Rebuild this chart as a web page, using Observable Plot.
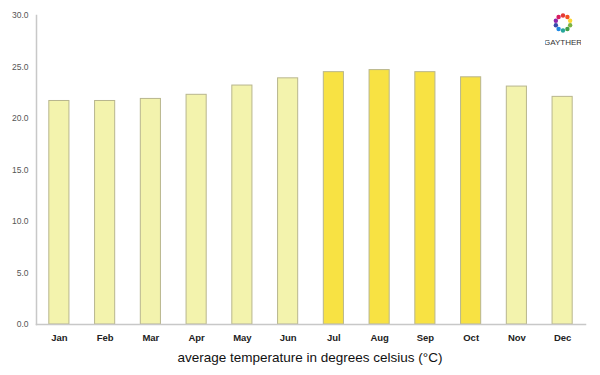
<!DOCTYPE html>
<html>
<head>
<meta charset="utf-8">
<script src="https://cdn.jsdelivr.net/npm/d3@7"></script>
<script src="https://cdn.jsdelivr.net/npm/@observablehq/plot@0.6"></script>
<style>
  body { margin: 0; background: #fff; font-family: "Liberation Sans", Arial, sans-serif; }
  #wrap { position: relative; width: 600px; height: 375px; }
  #caption { width: 600px; text-align: center; font-size: 13.5px; color: #111; height: 30px; line-height: 26px; padding-left: 20px; box-sizing: border-box; }
  #logo { position: absolute; left: 545px; top: 12px; }
</style>
</head>
<body>
<div id="wrap">
  <div id="chart"></div>
  <div id="caption">average temperature in degrees celsius (°C)</div>
  <svg id="logo" width="36" height="36" viewBox="0 0 36 36"></svg>
</div>
<script>
const months = ["Jan","Feb","Mar","Apr","May","Jun","Jul","Aug","Sep","Oct","Nov","Dec"];
const temps = [21.7, 21.7, 21.9, 22.3, 23.2, 23.9, 24.5, 24.7, 24.5, 24.0, 23.1, 22.1];
const summer = ["Jul","Aug","Sep","Oct"];
const yTicks = [0, 5, 10, 15, 20, 25, 30];

const data = months.map((m, i) => ({month: m, temp: temps[i], hot: summer.includes(m)}));

const chart = Plot.plot({
  width: 600,
  height: 345,
  marginTop: 15,
  marginBottom: 21,
  marginLeft: 36,
  marginRight: 15,
  style: {fontFamily: "'Liberation Sans', Arial, sans-serif", background: "#fff"},
  x: {domain: months, paddingInner: 0.56, paddingOuter: 0.28, round: false, label: null},
  y: {domain: [0, 30], label: null},
  marks: [
    Plot.barY(data, {
      x: "month", y: "temp",
      fill: d => d.hot ? "#f8e243" : "#f3f3ad",
      stroke: "#b8b68e", strokeWidth: 1
    }),
    Plot.frame({anchor: "left", stroke: "#c8c8c8", strokeWidth: 1.5}),
    Plot.frame({anchor: "bottom", stroke: "#c8c8c8", strokeWidth: 1.5}),
    Plot.axisY({ticks: yTicks, tickSize: 0, tickPadding: 8, tickFormat: d3.format(".1f"), fontSize: 8.5, fill: "#555", label: null}),
    Plot.axisX({tickSize: 0, tickPadding: 10, fontSize: 9.5, fontWeight: "bold", fill: "#222", label: null})
  ]
});
document.getElementById("chart").appendChild(chart);

// small logo
const logo = d3.select("#logo");
const cols = ["#e53935","#f4511e","#fdd835","#7cb342","#43a047","#26a69a","#1e88e5","#3949ab","#8e24aa","#d81b60"];
cols.forEach((c, i) => {
  const a = i / cols.length * 2 * Math.PI - Math.PI / 2;
  logo.append("circle").attr("cx", 18 + 7.5 * Math.cos(a)).attr("cy", 11 + 7.5 * Math.sin(a)).attr("r", 2.2).attr("fill", c);
});
logo.append("text").attr("x", 18).attr("y", 33).attr("text-anchor", "middle")
  .attr("font-size", 8).attr("fill", "#333").attr("font-family", "'Liberation Sans', Arial, sans-serif").text("GAYTHER");
</script>
</body>
</html>
